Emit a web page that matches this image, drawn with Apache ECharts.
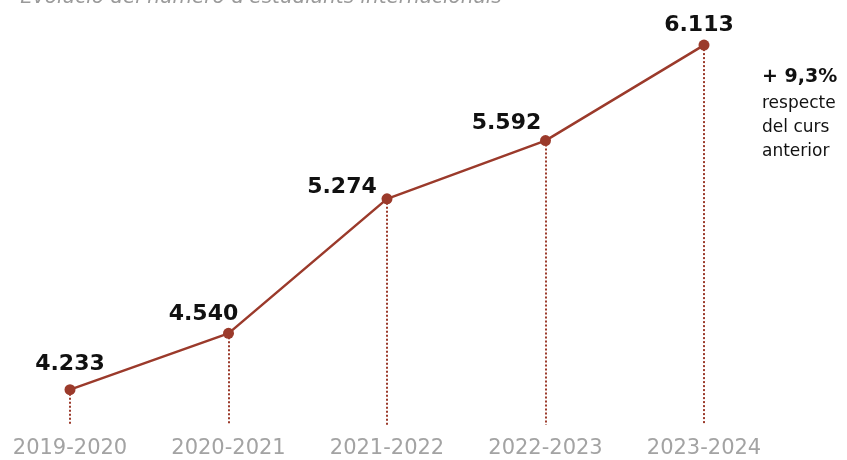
<!DOCTYPE html>
<html>
<head>
<meta charset="utf-8">
<script src="https://cdn.jsdelivr.net/npm/echarts@6/dist/echarts.min.js"></script>
<style>
  html, body { margin: 0; padding: 0; background: #fff; }
  #chart { width: 847px; height: 460px; }
</style>
</head>
<body>
<div id="chart"></div>
<script>
// dades
const cursos = ['2019-2020', '2020-2021', '2021-2022', '2022-2023', '2023-2024']
const estudiants = [4233, 4540, 5274, 5592, 6113]
// on va cada etiqueta respecte del punt
const labelOffsets = [[0, -4], [-25, 2], [-45, 10], [-39, 4], [-5, 2]]

const lineColor = '#9b3a2b'
const yMin = 4040
const yMax = 6250

var chart = echarts.init(document.getElementById('chart'))

function fmt(v) {
  return String(v).replace(/\B(?=(\d{3})+(?!\d))/g, '.')
}

var option = {
  animation: false,
  title: {
    text: "-Evolució del número d'estudiants internacionals-",
    left: 8,
    top: -17,
    textStyle: {
      fontFamily: 'DejaVu Sans',
      fontStyle: 'italic',
      fontWeight: 200,
      fontSize: 20,
      color: '#9a9a9a'
    }
  },
  grid: {
    left: 70,
    right: 143,
    top: 20,
    bottom: 35
  },
  xAxis: {
    type: 'category',
    data: cursos,
    boundaryGap: false,
    axisLine: { show: false },
    axisTick: { show: false },
    axisLabel: {
      margin: 13,
      fontFamily: 'DejaVu Sans',
      fontWeight: 'normal',
      fontSize: 21,
      color: '#a3a3a3'
    }
  },
  yAxis: {
    type: 'value',
    min: yMin,
    max: yMax,
    show: false,
    splitLine: { show: false }
  },
  graphic: [
    {
      type: 'text',
      left: 762,
      top: 68,
      style: {
        text: '+ 9,3%',
        fontFamily: 'DejaVu Sans',
        fontWeight: 'bold',
        fontSize: 19,
        fill: '#111'
      }
    },
    {
      type: 'text',
      left: 762,
      top: 92,
      style: {
        text: 'respecte\ndel curs\nanterior',
        fontFamily: 'DejaVu Sans',
        fontSize: 17,
        lineHeight: 24,
        fill: '#111'
      }
    }
  ],
  series: [
    {
      type: 'line',
      data: estudiants.map((v, i) => ({
        value: v,
        label: { offset: labelOffsets[i] }
      })),
      symbol: 'circle',
      symbolSize: 11,
      lineStyle: { color: lineColor, width: 2.5 },
      itemStyle: { color: lineColor },
      label: {
        show: true,
        position: 'top',
        distance: 5,
        formatter: p => fmt(p.value),
        fontFamily: 'DejaVu Sans',
        fontWeight: 'bold',
        fontSize: 22,
        lineHeight: 22,
        color: '#111'
      },
      markLine: {
        silent: true,
        symbol: 'none',
        label: { show: false },
        lineStyle: { color: lineColor, type: [2, 2], width: 2 },
        data: estudiants.map((v, i) => [
          { coord: [i, v] },
          { coord: [i, yMin] }
        ])
      },
      z: 3
    }
  ]
}
chart.setOption(option)
</script>
</body>
</html>
